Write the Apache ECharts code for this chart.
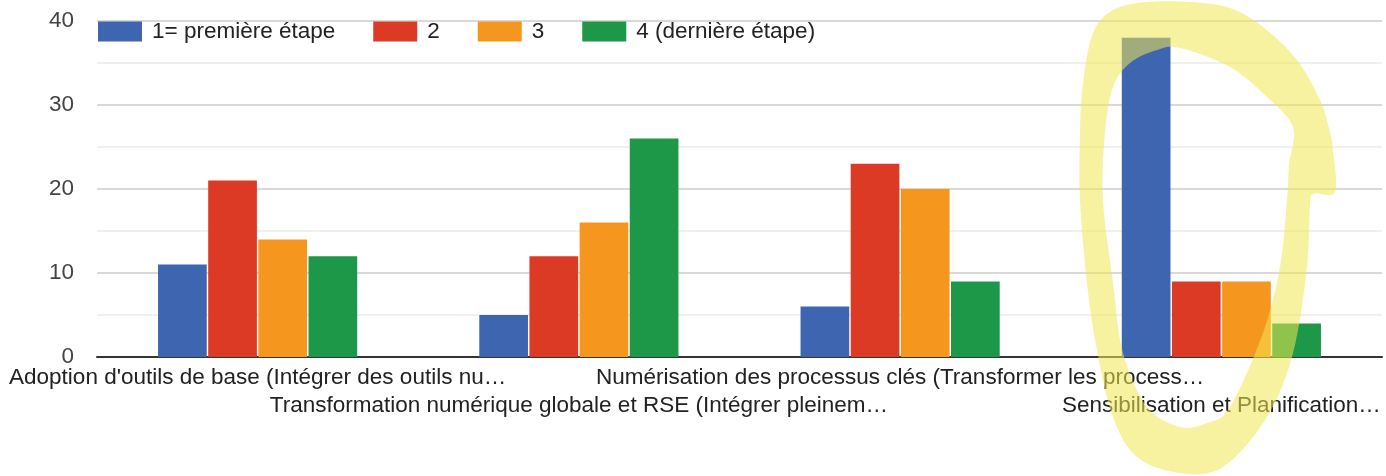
<!DOCTYPE html>
<html>
<head>
<meta charset="utf-8">
<script src="https://cdn.jsdelivr.net/npm/echarts@6/dist/echarts.min.js"></script>
<style>
  html, body { margin: 0; padding: 0; background: #fff; }
  #chart { width: 1386px; height: 476px; }
</style>
</head>
<body>
<div id="chart"></div>
<script>
// Categories (shown truncated, as in the survey summary)
const categories = [
  "Adoption d'outils de base (Intégrer des outils nu…",
  "Transformation numérique globale et RSE (Intégrer pleinem…",
  "Numérisation des processus clés (Transformer les process…",
  "Sensibilisation et Planification…"
];

const seriesNames = ["1= première étape", "2", "3", "4 (dernière étape)"];

// Number of answers per stage
const stage1 = [11, 5, 6, 38];
const stage2 = [21, 12, 23, 9];
const stage3 = [14, 16, 20, 9];
const stage4 = [12, 26, 9, 4];

const yTicks = [0, 10, 20, 30, 40];

const colors = ["#3e65b0", "#dc3a24", "#f5961f", "#1c9848"];
const FONT = "'Liberation Sans', Arial, sans-serif";
const FS = 22.5;

// Hand-drawn highlight ring around the last group
const outerRing = [
  [1335,192],[1333,150],[1329,128],[1320,100],[1297,60],[1263,27],[1230,8],[1190,2],
  [1147,2],[1113,10],[1093,33],[1083,83],[1080,133],[1080,200],[1087,283],[1097,350],
  [1113,417],[1137,457],[1180,473],[1223,467],[1267,417],[1293,353],[1307,267],
  [1310,205],[1314,194]
];
const innerRing = [
  [1293,127],[1267,97],[1230,67],[1180,48],[1157,50],[1130,63],[1113,87],[1105,133],
  [1103,200],[1113,283],[1123,353],[1147,407],[1180,427],[1207,423],[1230,407],
  [1263,333],[1280,267],[1287,200],[1289,165]
];

function closedCurve(pts) {
  // Catmull-Rom spline through the points, closed, as cubic Béziers
  const n = pts.length;
  let d = 'M' + pts[0][0] + ' ' + pts[0][1];
  for (let i = 0; i < n; i++) {
    const p0 = pts[(i - 1 + n) % n], p1 = pts[i], p2 = pts[(i + 1) % n], p3 = pts[(i + 2) % n];
    const c1x = p1[0] + (p2[0] - p0[0]) / 6, c1y = p1[1] + (p2[1] - p0[1]) / 6;
    const c2x = p2[0] - (p3[0] - p1[0]) / 6, c2y = p2[1] - (p3[1] - p1[1]) / 6;
    d += ' C' + c1x.toFixed(1) + ' ' + c1y.toFixed(1) + ' ' + c2x.toFixed(1) + ' ' +
         c2y.toFixed(1) + ' ' + p2[0] + ' ' + p2[1];
  }
  return d + ' Z';
}
const ringPath = closedCurve(outerRing) + ' ' + closedCurve(innerRing.slice().reverse());

const seriesData = [stage1, stage2, stage3, stage4];

const chart = echarts.init(document.getElementById('chart'), null, { renderer: 'canvas' });
chart.setOption({
  animation: false,
  color: colors,
  textStyle: { fontFamily: FONT },
  legend: {
    left: 93,
    top: 15,
    itemWidth: 44,
    itemHeight: 20,
    itemGap: 38,
    icon: 'rect',
    data: seriesNames,
    textStyle: { fontSize: FS, color: '#222', fontFamily: FONT, padding: [0, 0, 0, 5] }
  },
  grid: { left: 97, right: 4, top: 21, bottom: 119, containLabel: false },
  xAxis: {
    type: 'category',
    data: categories,
    axisTick: { show: false },
    axisLine: { lineStyle: { color: '#333', width: 2 } },
    axisLabel: {
      interval: 0,
      fontSize: FS,
      color: '#222',
      lineHeight: 28,
      margin: 7,
      formatter: (v, i) => (i % 2 === 1 ? '\n' + v : v)
    }
  },
  yAxis: {
    type: 'value',
    min: yTicks[0],
    max: yTicks[yTicks.length - 1],
    interval: 10,
    axisLine: { show: false },
    axisTick: { show: false },
    axisLabel: { fontSize: FS, color: '#444', margin: 23 },
    splitLine: { lineStyle: { color: '#cccccc', width: 1.5 } },
    minorTick: { show: false, splitNumber: 2 },
    minorSplitLine: { show: true, lineStyle: { color: '#ebebeb', width: 1.5 } }
  },
  series: seriesData.map((d, i) => ({
    name: seriesNames[i],
    type: 'bar',
    data: d,
    barGap: '3%',
    barCategoryGap: '38%',
    itemStyle: { color: colors[i] }
  }))
});

// Highlighter stroke drawn on top of everything
const ring = echarts.graphic.makePath(ringPath, {
  style: { fill: 'rgba(240,231,80,0.55)', stroke: null },
  z: 1000,
  silent: true
});
chart.getZr().add(ring);
</script>
</body>
</html>
